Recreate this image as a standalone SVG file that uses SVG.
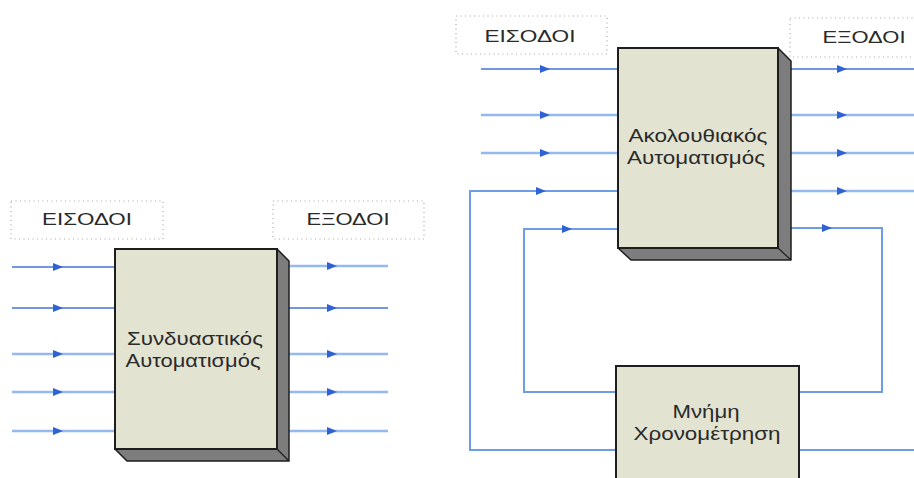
<svg xmlns="http://www.w3.org/2000/svg" width="914" height="478" viewBox="0 0 914 478">
  <style>
    .lbl { fill: none; stroke: #a8a8a8; stroke-width: 1.2; stroke-dasharray: 1 3.5; }
    .txt { font-family: "Liberation Sans", Arial, sans-serif; fill: #2a2a2a; text-anchor: middle; }
    .head { font-size: 17px; }
    .body { font-size: 19px; }
    .face { fill: #e3e3d2; stroke: #1e1e1e; stroke-width: 2; }
    .side { fill: #7d7d7d; stroke: #1e1e1e; stroke-width: 1.5; stroke-linejoin: round; }
    .dk { fill: none; stroke: #4273d8; stroke-width: 1.6; }
    .lt { fill: none; stroke: #94b9ef; stroke-width: 2.4; }
    .md { fill: none; stroke: #6f9ce6; stroke-width: 2; }
    .arr { fill: #2f62d2; }
  </style>
  <defs>
    <path id="ah" d="M0,-4 L10,0 L0,4 Z"/>
  </defs>

  <!-- connectors -->
  <g id="connectors">
    <!-- combinational: inputs -->
    <line class="dk" x1="12" y1="267" x2="115" y2="267"/>
    <line class="dk" x1="12" y1="308" x2="115" y2="308"/>
    <line class="lt" x1="12" y1="354" x2="115" y2="354"/>
    <line class="lt" x1="12" y1="392" x2="115" y2="392"/>
    <line class="lt" x1="12" y1="431" x2="115" y2="431"/>
    <!-- combinational: outputs -->
    <line class="lt" x1="285" y1="266" x2="388" y2="266"/>
    <line class="dk" x1="285" y1="308" x2="388" y2="308"/>
    <line class="lt" x1="285" y1="354" x2="388" y2="354"/>
    <line class="lt" x1="285" y1="392" x2="388" y2="392"/>
    <line class="lt" x1="285" y1="431" x2="388" y2="431"/>
    <g class="arr">
      <use href="#ah" x="53" y="267"/>
      <use href="#ah" x="53" y="308"/>
      <use href="#ah" x="53" y="354"/>
      <use href="#ah" x="53" y="392"/>
      <use href="#ah" x="53" y="431"/>
      <use href="#ah" x="327" y="266"/>
      <use href="#ah" x="327" y="308"/>
      <use href="#ah" x="327" y="354"/>
      <use href="#ah" x="327" y="392"/>
      <use href="#ah" x="327" y="431"/>
    </g>

    <!-- sequential: external inputs -->
    <line class="dk" x1="481" y1="69" x2="618" y2="69"/>
    <line class="lt" x1="481" y1="115" x2="618" y2="115"/>
    <line class="lt" x1="481" y1="153" x2="618" y2="153"/>
    <!-- sequential: outputs -->
    <line class="dk" x1="785" y1="69" x2="914" y2="69"/>
    <line class="lt" x1="785" y1="115" x2="914" y2="115"/>
    <line class="lt" x1="785" y1="153" x2="914" y2="153"/>
    <line class="lt" x1="785" y1="191" x2="914" y2="191"/>
    <!-- feedback: state out to memory -->
    <polyline class="md" points="780,228 882,228 882,392 799,392"/>
    <!-- feedback: memory back to inputs -->
    <polyline class="md" points="616,392 524,392 524,229 618,229"/>
    <polyline class="md" points="616,450 470,450 470,191 618,191"/>
    <line class="md" x1="799" y1="450" x2="914" y2="450"/>
    <g class="arr">
      <use href="#ah" x="540" y="69"/>
      <use href="#ah" x="540" y="115"/>
      <use href="#ah" x="540" y="153"/>
      <use href="#ah" x="536" y="191"/>
      <use href="#ah" x="562" y="229"/>
      <use href="#ah" x="837" y="69"/>
      <use href="#ah" x="837" y="115"/>
      <use href="#ah" x="837" y="153"/>
      <use href="#ah" x="837" y="191"/>
      <use href="#ah" x="822" y="228"/>
    </g>
  </g>

  <!-- left block -->
  <g id="in-label-left">
    <rect class="lbl" x="11" y="201" width="152" height="38"/>
    <text class="txt head" x="87" y="225" textLength="90" lengthAdjust="spacingAndGlyphs">ΕΙΣΟΔΟΙ</text>
  </g>
  <g id="out-label-left">
    <rect class="lbl" x="273" y="201" width="151" height="38"/>
    <text class="txt head" x="348" y="225" textLength="83" lengthAdjust="spacingAndGlyphs">ΕΞΟΔΟΙ</text>
  </g>
  <g id="combinational">
    <polygon class="side" points="277,249 289,261 289,461 127,461 115,449 277,449"/>
    <line x1="277" y1="449" x2="289" y2="461" stroke="#1e1e1e" stroke-width="1.2"/>
    <rect class="face" x="115" y="249" width="162" height="200"/>
    <text class="txt body" x="195" y="345" textLength="136" lengthAdjust="spacingAndGlyphs">Συνδυαστικός</text>
    <text class="txt body" x="193" y="367" textLength="135" lengthAdjust="spacingAndGlyphs">Αυτοματισμός</text>
  </g>

  <!-- right block -->
  <g id="in-label-right">
    <rect class="lbl" x="456" y="16" width="151" height="38"/>
    <text class="txt head" x="530" y="42" textLength="91" lengthAdjust="spacingAndGlyphs">ΕΙΣΟΔΟΙ</text>
  </g>
  <g id="out-label-right">
    <rect class="lbl" x="790" y="18" width="140" height="39"/>
    <text class="txt head" x="864" y="43" textLength="83" lengthAdjust="spacingAndGlyphs">ΕΞΟΔΟΙ</text>
  </g>
  <g id="sequential">
    <polygon class="side" points="778,48 791,61 791,260 631,260 618,248 778,248"/>
    <line x1="778" y1="248" x2="791" y2="260" stroke="#1e1e1e" stroke-width="1.2"/>
    <rect class="face" x="618" y="48" width="160" height="200"/>
    <text class="txt body" x="698" y="142" textLength="139" lengthAdjust="spacingAndGlyphs">Ακολουθιακός</text>
    <text class="txt body" x="696" y="164" textLength="138" lengthAdjust="spacingAndGlyphs">Αυτοματισμός</text>
  </g>
  <g id="memory">
    <rect class="face" x="616" y="366" width="183" height="130"/>
    <text class="txt body" x="706" y="418" textLength="67" lengthAdjust="spacingAndGlyphs">Μνήμη</text>
    <text class="txt body" x="707" y="440" textLength="147" lengthAdjust="spacingAndGlyphs">Χρονομέτρηση</text>
  </g>
</svg>
